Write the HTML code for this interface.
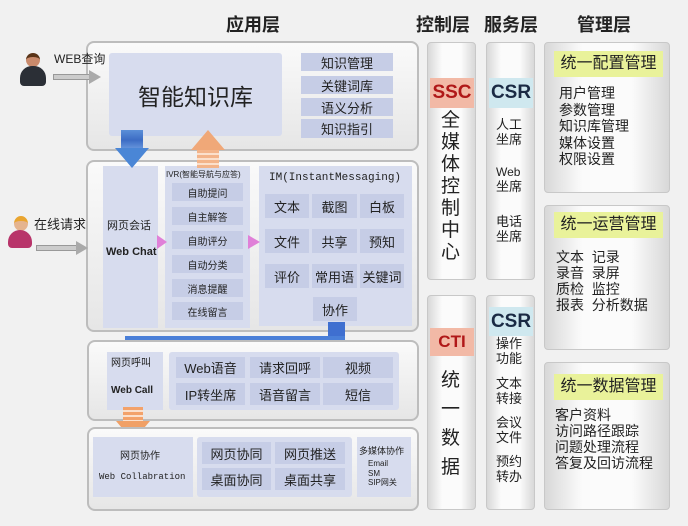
<!DOCTYPE html>
<html><head><meta charset="utf-8"><style>
*{margin:0;padding:0;box-sizing:border-box}
body{width:688px;height:526px;background:#f1f1f1;position:relative;overflow:hidden;font-family:"Liberation Sans","Noto Sans CJK SC",sans-serif;color:#222}
.a{position:absolute}
.pn{position:absolute;border:2px solid #bdbdbd;border-radius:8px;background:linear-gradient(#fafafa,#e6e6e6)}
.bx{position:absolute;background:#d7dcee}
.c{position:absolute;background:#c6cde6;display:flex;align-items:center;justify-content:center;font-size:13px;color:#222}
.h{position:absolute;font-size:18px;font-weight:bold;color:#222}
.col{position:absolute;border:1px solid #c8c8c8;border-radius:4px;background:linear-gradient(90deg,#d8d8d8,#fbfbfb 30%,#fbfbfb 70%,#d8d8d8)}
.t{position:absolute;line-height:1.15}
.z{z-index:5}
</style></head><body>
<div class="h" style="left:226px;top:11px">应用层</div>
<div class="h" style="left:416px;top:11px">控制层</div>
<div class="h" style="left:484px;top:11px">服务层</div>
<div class="h" style="left:577px;top:11px">管理层</div>

<!-- persons -->
<div class="a" style="left:26px;top:53px;width:14px;height:14px;border-radius:50%;background:#c98a6c;border-top:4px solid #5a3418"></div>
<div class="a" style="left:20px;top:66px;width:26px;height:20px;border-radius:12px 12px 4px 4px;background:#2b2f36"></div>
<div class="t z" style="left:54px;top:53px;font-size:12px">WEB查询</div>
<div class="a z" style="left:53px;top:74px;width:38px;height:6px;background:#ccc;border:1px solid #999"></div>
<div class="a z" style="left:89px;top:70px;border-left:12px solid #aaa;border-top:7px solid transparent;border-bottom:7px solid transparent"></div>
<div class="a" style="left:14px;top:216px;width:14px;height:15px;border-radius:50%;background:#e5b48f;border-top:5px solid #e9a530"></div>
<div class="a" style="left:8px;top:230px;width:24px;height:18px;border-radius:12px 12px 4px 4px;background:#b8346a"></div>
<div class="t z" style="left:34px;top:218px;font-size:13px">在线请求</div>
<div class="a z" style="left:36px;top:245px;width:42px;height:6px;background:#ccc;border:1px solid #999"></div>
<div class="a z" style="left:76px;top:241px;border-left:12px solid #aaa;border-top:7px solid transparent;border-bottom:7px solid transparent"></div>

<!-- panel1 -->
<div class="pn" style="left:86px;top:41px;width:333px;height:110px"></div>
<div class="bx" style="left:109px;top:53px;width:173px;height:83px;border-radius:3px;display:flex;align-items:center;justify-content:center;font-size:23px">智能知识库</div>
<div class="c" style="left:301px;top:53px;width:92px;height:18px">知识管理</div>
<div class="c" style="left:301px;top:76px;width:92px;height:18px">关键词库</div>
<div class="c" style="left:301px;top:98px;width:92px;height:18px">语义分析</div>
<div class="c" style="left:301px;top:119px;width:92px;height:19px">知识指引</div>

<!-- panel2 -->
<div class="pn" style="left:86px;top:160px;width:333px;height:172px"></div>
<div class="bx" style="left:103px;top:166px;width:55px;height:162px"></div>
<div class="t" style="left:107px;top:220px;font-size:11px">网页会话</div>
<div class="t" style="left:106px;top:246px;font-size:11px;font-weight:bold">Web Chat</div>
<div class="bx" style="left:165px;top:166px;width:85px;height:162px"></div>
<div class="t" style="left:166px;top:170px;font-size:8px">IVR(智能导航与应答)</div>
<div class="c" style="left:172px;top:183px;width:71px;height:18px;font-size:10px">自助提问</div>
<div class="c" style="left:172px;top:207px;width:71px;height:18px;font-size:10px">自主解答</div>
<div class="c" style="left:172px;top:231px;width:71px;height:18px;font-size:10px">自助评分</div>
<div class="c" style="left:172px;top:255px;width:71px;height:18px;font-size:10px">自动分类</div>
<div class="c" style="left:172px;top:279px;width:71px;height:18px;font-size:10px">消息提醒</div>
<div class="c" style="left:172px;top:302px;width:71px;height:18px;font-size:10px">在线留言</div>
<div class="bx" style="left:259px;top:166px;width:153px;height:160px"></div>
<div class="t" style="left:269px;top:172px;font-size:11px;font-family:'Liberation Mono',monospace">IM(InstantMessaging)</div>
<div class="c" style="left:265px;top:194px;width:44px;height:24px">文本</div>
<div class="c" style="left:312px;top:194px;width:45px;height:24px">截图</div>
<div class="c" style="left:360px;top:194px;width:44px;height:24px">白板</div>
<div class="c" style="left:265px;top:229px;width:44px;height:24px">文件</div>
<div class="c" style="left:312px;top:229px;width:45px;height:24px">共享</div>
<div class="c" style="left:360px;top:229px;width:44px;height:24px">预知</div>
<div class="c" style="left:265px;top:264px;width:44px;height:24px">评价</div>
<div class="c" style="left:312px;top:264px;width:45px;height:24px">常用语</div>
<div class="c" style="left:360px;top:264px;width:44px;height:24px">关键词</div>
<div class="c" style="left:313px;top:297px;width:44px;height:24px">协作</div>

<!-- big arrows -->
<div class="a" style="left:121px;top:130px;width:22px;height:20px;background:linear-gradient(#5a8fd8,#3c6cc4 50%,#6d9be0)"></div>
<div class="a" style="left:115px;top:148px;border-top:20px solid #4a86d6;border-left:17px solid transparent;border-right:17px solid transparent"></div>
<div class="a" style="left:191px;top:130px;border-bottom:20px solid #f0a878;border-left:17px solid transparent;border-right:17px solid transparent"></div>
<div class="a" style="left:197px;top:150px;width:22px;height:18px;background:repeating-linear-gradient(#f3b48a 0 3px,#fbe0cc 3px 5px)"></div>
<div class="a" style="left:157px;top:235px;border-left:10px solid #e080d8;border-top:7px solid transparent;border-bottom:7px solid transparent"></div>
<div class="a" style="left:248px;top:235px;border-left:12px solid #e080d8;border-top:7px solid transparent;border-bottom:7px solid transparent"></div>

<!-- blue L connector -->
<div class="a" style="left:328px;top:322px;width:17px;height:19px;background:#3f6fd0"></div>
<div class="a" style="left:125px;top:336px;width:220px;height:6px;background:#4a7fd8"></div>
<div class="a" style="left:125px;top:336px;width:8px;height:16px;background:#4a7fd8"></div>
<div class="a" style="left:116px;top:350px;border-top:12px solid #5a92e0;border-left:14px solid transparent;border-right:14px solid transparent"></div>

<!-- panel3 -->
<div class="pn" style="left:87px;top:340px;width:332px;height:81px"></div>
<div class="bx" style="left:107px;top:352px;width:56px;height:58px"></div>
<div class="t" style="left:111px;top:358px;font-size:10px">网页呼叫</div>
<div class="t" style="left:111px;top:385px;font-size:10px;font-weight:bold">Web Call</div>
<div class="bx" style="left:169px;top:352px;width:230px;height:58px;border-radius:3px"></div>
<div class="c" style="left:176px;top:357px;width:69px;height:21px">Web语音</div>
<div class="c" style="left:250px;top:357px;width:70px;height:21px">请求回呼</div>
<div class="c" style="left:323px;top:357px;width:70px;height:21px">视频</div>
<div class="c" style="left:176px;top:383px;width:69px;height:22px">IP转坐席</div>
<div class="c" style="left:250px;top:383px;width:70px;height:22px">语音留言</div>
<div class="c" style="left:323px;top:383px;width:70px;height:22px">短信</div>

<!-- orange down arrow -->
<div class="a" style="left:123px;top:407px;width:20px;height:14px;background:repeating-linear-gradient(#f3a26a 0 3px,#fbe0cc 3px 5px)"></div>
<div class="a" style="left:116px;top:421px;border-top:20px solid #f0a066;border-left:17px solid transparent;border-right:17px solid transparent"></div>

<!-- panel4 -->
<div class="pn" style="left:87px;top:427px;width:332px;height:84px"></div>
<div class="bx" style="left:93px;top:437px;width:100px;height:60px"></div>
<div class="t" style="left:120px;top:451px;font-size:10px">网页协作</div>
<div class="t" style="left:99px;top:472px;font-size:9px;font-family:'Liberation Mono',monospace">Web Collabration</div>
<div class="bx" style="left:197px;top:437px;width:155px;height:60px;border-radius:3px"></div>
<div class="c" style="left:202px;top:442px;width:69px;height:22px">网页协同</div>
<div class="c" style="left:275px;top:442px;width:70px;height:22px">网页推送</div>
<div class="c" style="left:202px;top:468px;width:69px;height:22px">桌面协同</div>
<div class="c" style="left:275px;top:468px;width:70px;height:22px">桌面共享</div>
<div class="bx" style="left:357px;top:437px;width:54px;height:60px"></div>
<div class="t" style="left:359px;top:446px;font-size:9px">多媒体协作</div>
<div class="t" style="left:368px;top:459px;font-size:8px;line-height:1.2">Email<br>SM<br>SIP网关</div>

<!-- control columns -->
<div class="col" style="left:427px;top:42px;width:49px;height:238px"></div>
<div class="a" style="left:430px;top:78px;width:44px;height:30px;background:#f2b9a6;color:#b01818;font-size:19px;font-weight:bold;text-align:center;line-height:30px">SSC</div>
<div class="t" style="left:441px;top:110px;font-size:19px;line-height:22px;width:20px">全媒体控制中心</div>
<div class="col" style="left:427px;top:295px;width:49px;height:215px"></div>
<div class="a" style="left:430px;top:328px;width:44px;height:28px;background:#f2b9a6;color:#b01818;font-size:17px;font-weight:bold;text-align:center;line-height:28px">CTI</div>
<div class="t" style="left:441px;top:366px;font-size:19px;line-height:29px;width:20px">统一数据</div>

<!-- service columns -->
<div class="col" style="left:486px;top:42px;width:49px;height:238px"></div>
<div class="a" style="left:489px;top:78px;width:44px;height:30px;background:#cfe8ef;color:#1a2a44;font-size:19px;font-weight:bold;text-align:center;line-height:30px">CSR</div>
<div class="t" style="left:496px;top:118px;font-size:13px">人工<br>坐席</div>
<div class="t" style="left:496px;top:166px;font-size:12px">Web<br><span style="font-size:13px">坐席</span></div>
<div class="t" style="left:496px;top:215px;font-size:13px">电话<br>坐席</div>
<div class="col" style="left:486px;top:295px;width:49px;height:215px"></div>
<div class="a" style="left:489px;top:307px;width:44px;height:29px;background:#cfe8ef;color:#1a2a44;font-size:19px;font-weight:bold;text-align:center;line-height:29px">CSR</div>
<div class="t" style="left:496px;top:337px;font-size:13px">操作<br>功能</div>
<div class="t" style="left:496px;top:377px;font-size:13px">文本<br>转接</div>
<div class="t" style="left:496px;top:416px;font-size:13px">会议<br>文件</div>
<div class="t" style="left:496px;top:455px;font-size:13px">预约<br>转办</div>

<!-- management -->
<div class="col" style="left:544px;top:42px;width:126px;height:151px"></div>
<div class="a" style="left:554px;top:51px;width:109px;height:26px;background:#e9f29a;font-size:16px;line-height:26px;text-align:center">统一配置管理</div>
<div class="t" style="left:559px;top:85px;font-size:14px;line-height:16.5px">用户管理<br>参数管理<br>知识库管理<br>媒体设置<br>权限设置</div>
<div class="col" style="left:544px;top:205px;width:126px;height:145px"></div>
<div class="a" style="left:554px;top:212px;width:109px;height:26px;background:#e9f29a;font-size:16px;line-height:26px;text-align:center">统一运营管理</div>
<div class="t" style="left:556px;top:249px;font-size:14px;line-height:16px">文本 &nbsp;记录<br>录音 &nbsp;录屏<br>质检 &nbsp;监控<br>报表 &nbsp;分析数据</div>
<div class="col" style="left:544px;top:362px;width:126px;height:148px"></div>
<div class="a" style="left:554px;top:374px;width:109px;height:26px;background:#e9f29a;font-size:16px;line-height:26px;text-align:center">统一数据管理</div>
<div class="t" style="left:555px;top:407px;font-size:14px;line-height:16px">客户资料<br>访问路径跟踪<br>问题处理流程<br>答复及回访流程</div>
</body></html>
